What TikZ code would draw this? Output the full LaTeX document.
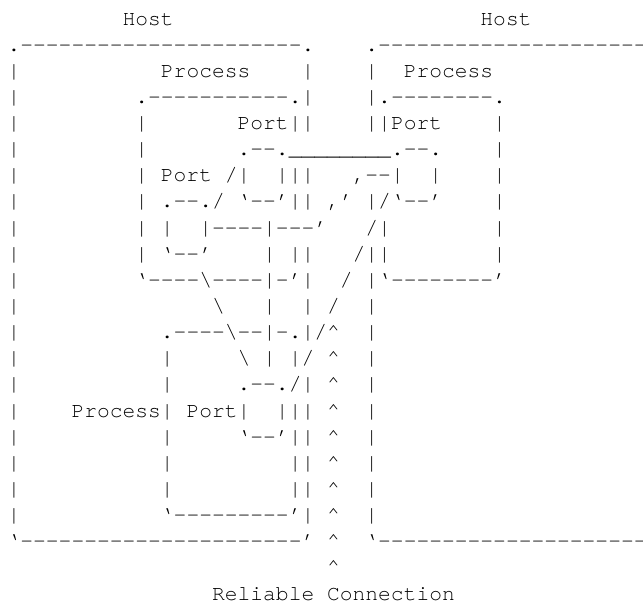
\documentclass[tikz,border=0pt]{standalone}
\usepackage{fontspec}
\setmonofont{texgyrecursor-regular.otf}
\newcommand\sk[1]{\kern\dimexpr0.6em*#1\relax}
\newcommand\BS{\textbackslash}
\newcommand\CA{\textasciicircum}
\newcommand\US{\_}
\newcommand\asciifont{\ttfamily\fontsize{15.975pt}{20pt}\selectfont}
\tikzset{ascii/.style={anchor=base west, inner sep=0pt, outer sep=0pt, font=\asciifont, text=black}}
\begin{document}
\begin{tikzpicture}[x=0.75pt,y=-0.75pt]
\useasboundingbox (0,0) rectangle (643,608);
\fill[white] (0,0) rectangle (643,608);
\clip (0,0) rectangle (643,608);
\node[ascii] (r0)  at (7.6,25.00)  {\sk{9}Host\sk{24}Host};
\node[ascii] (r1)  at (7.6,51.14)  {.----------------------.\sk{4}.----------------------};
\node[ascii] (r2)  at (7.6,77.28)  {|\sk{11}Process\sk{4}|\sk{4}|\sk{2}Process};
\node[ascii] (r3)  at (7.6,103.42) {|\sk{9}.-----------.|\sk{4}|.--------.};
\node[ascii] (r4)  at (7.6,129.56) {|\sk{9}|\sk{7}Port||\sk{4}||Port\sk{4}|};
\node[ascii] (r5)  at (7.6,155.70) {|\sk{9}|\sk{7}.--.\US\US\US\US\US\US\US\US.--.\sk{4}|};
\node[ascii] (r6)  at (7.6,181.84) {|\sk{9}|\sk{1}Port\sk{1}/|\sk{2}|||\sk{3},--|\sk{2}|\sk{4}|};
\node[ascii] (r7)  at (7.6,207.98) {|\sk{9}|\sk{1}.--./\sk{1}‘--’||\sk{1},’\sk{1}|/‘--’\sk{4}|};
\node[ascii] (r8)  at (7.6,234.12) {|\sk{9}|\sk{1}|\sk{2}|----|---’\sk{3}/|\sk{8}|};
\node[ascii] (r9)  at (7.6,260.26) {|\sk{9}|\sk{1}‘--’\sk{4}|\sk{1}||\sk{3}/||\sk{8}|};
\node[ascii] (r10) at (7.6,286.40) {|\sk{9}‘----\BS----|-’|\sk{2}/\sk{1}|‘--------’};
\node[ascii] (r11) at (7.6,312.54) {|\sk{15}\BS\sk{3}|\sk{2}|\sk{1}/\sk{2}|};
\node[ascii] (r12) at (7.6,338.68) {|\sk{11}.----\BS--|-.|/\CA\sk{2}|};
\node[ascii] (r13) at (7.6,364.82) {|\sk{11}|\sk{5}\BS\sk{1}|\sk{1}|/\sk{1}\CA\sk{2}|};
\node[ascii] (r14) at (7.6,390.96) {|\sk{11}|\sk{5}.--./|\sk{1}\CA\sk{2}|};
\node[ascii] (r15) at (7.6,417.10) {|\sk{4}Process|\sk{1}Port|\sk{2}|||\sk{1}\CA\sk{2}|};
\node[ascii] (r16) at (7.6,443.24) {|\sk{11}|\sk{5}‘--’||\sk{1}\CA\sk{2}|};
\node[ascii] (r17) at (7.6,469.38) {|\sk{11}|\sk{9}||\sk{1}\CA\sk{2}|};
\node[ascii] (r18) at (7.6,495.52) {|\sk{11}|\sk{9}||\sk{1}\CA\sk{2}|};
\node[ascii] (r19) at (7.6,521.66) {|\sk{11}‘---------’|\sk{1}\CA\sk{2}|};
\node[ascii] (r20) at (7.6,547.80) {‘----------------------’\sk{1}\CA\sk{2}‘----------------------};
\node[ascii] (r21) at (7.6,573.94) {\sk{25}\CA};
\node[ascii] (r22) at (7.6,600.08) {\sk{16}Reliable\sk{1}Connection};
\end{tikzpicture}
\end{document}
